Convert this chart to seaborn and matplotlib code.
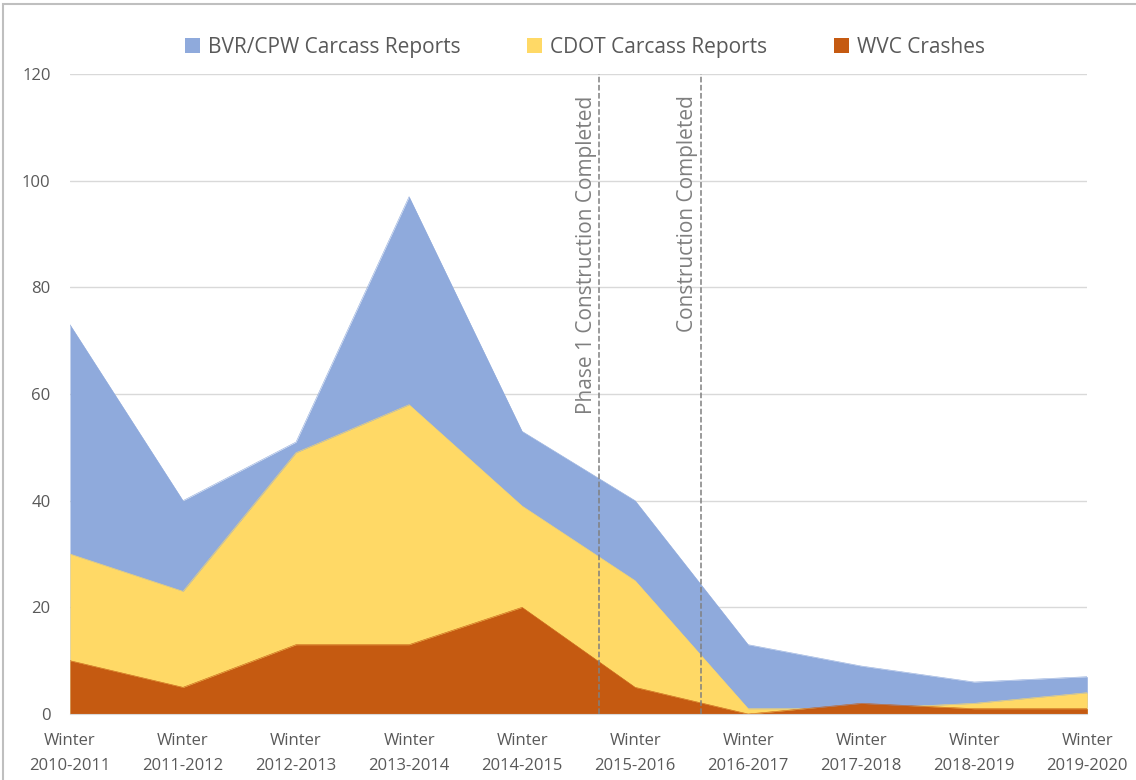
import numpy as np
import pandas as pd
import matplotlib
matplotlib.use("Agg")
import matplotlib.pyplot as plt
import seaborn as sns
from matplotlib.patches import Rectangle

# values (overlapping areas, not stacked)
seasons = ["Winter\n2010-2011", "Winter\n2011-2012", "Winter\n2012-2013", "Winter\n2013-2014",
           "Winter\n2014-2015", "Winter\n2015-2016", "Winter\n2016-2017", "Winter\n2017-2018",
           "Winter\n2018-2019", "Winter\n2019-2020"]
bvr_cpw = [73, 40, 51, 97, 53, 40, 13, 9, 6, 7]
cdot = [30, 23, 49, 58, 39, 25, 1, 1, 2, 4]
wvc = [10, 5, 13, 13, 20, 5, 0, 2, 1, 1]

series_names = ["BVR/CPW Carcass Reports", "CDOT Carcass Reports", "WVC Crashes"]
series_colors = ["#8faadc", "#ffd966", "#c55a11"]

# construction markers (position between categories)
event_pos = [4.68, 5.58]
event_labels = ["Phase 1 Construction Completed", "Construction Completed"]

sns.set_style("white")
plt.rcParams["font.family"] = ["Open Sans", "DejaVu Sans"]

df = pd.DataFrame({"x": np.arange(len(seasons)),
                   series_names[0]: bvr_cpw,
                   series_names[1]: cdot,
                   series_names[2]: wvc})
long = df.melt(id_vars="x", var_name="series", value_name="count")

fig = plt.figure(figsize=(11.36, 7.8), dpi=100)
ax = fig.add_axes([0.0616, 0.0846, 0.8955, 0.8205])

for name, col in zip(series_names, series_colors):
    sub = long[long["series"] == name]
    ax.fill_between(sub["x"], 0, sub["count"], color=col, linewidth=0, label=name, zorder=2)
    sns.lineplot(data=sub, x="x", y="count", ax=ax, color=col, linewidth=0.4, zorder=2, legend=False)

for xp, lab in zip(event_pos, event_labels):
    ax.axvline(xp, color="#808080", linestyle="--", linewidth=1.1, zorder=3)
    ax.text(xp - 0.02, 116, lab, rotation=90, va="top", ha="right",
            fontsize=15, color="#7f7f7f", zorder=4)

ax.set_xlim(0, 9)
ax.set_ylim(0, 120)
ax.set_yticks(range(0, 121, 20))
ax.set_xticks(df["x"])
ax.set_xticklabels(seasons, linespacing=1.75)
ax.yaxis.grid(True, color="#d9d9d9", linewidth=1, zorder=0)
ax.set_axisbelow(True)
for s in ["top", "right", "left"]:
    ax.spines[s].set_visible(False)
ax.spines["bottom"].set_color("#d9d9d9")
ax.tick_params(axis="both", length=0, labelsize=12, labelcolor="#595959")
ax.tick_params(axis="x", pad=14)
ax.tick_params(axis="y", pad=14)
ax.set_xlabel("")
ax.set_ylabel("")

handles, labels = ax.get_legend_handles_labels()
fig.legend(handles, labels, loc="upper center", bbox_to_anchor=(0.515, 0.977), ncol=3,
           frameon=False, fontsize=15, handlelength=0.7, handleheight=0.7,
           handletextpad=0.4, columnspacing=3.2, labelcolor="#595959")

fig.patches.append(Rectangle((0.003, -0.01), 1.2, 1.005, transform=fig.transFigure,
                             fill=False, edgecolor="#bfbfbf", linewidth=1.5))

fig.savefig("out.png", dpi=100)
